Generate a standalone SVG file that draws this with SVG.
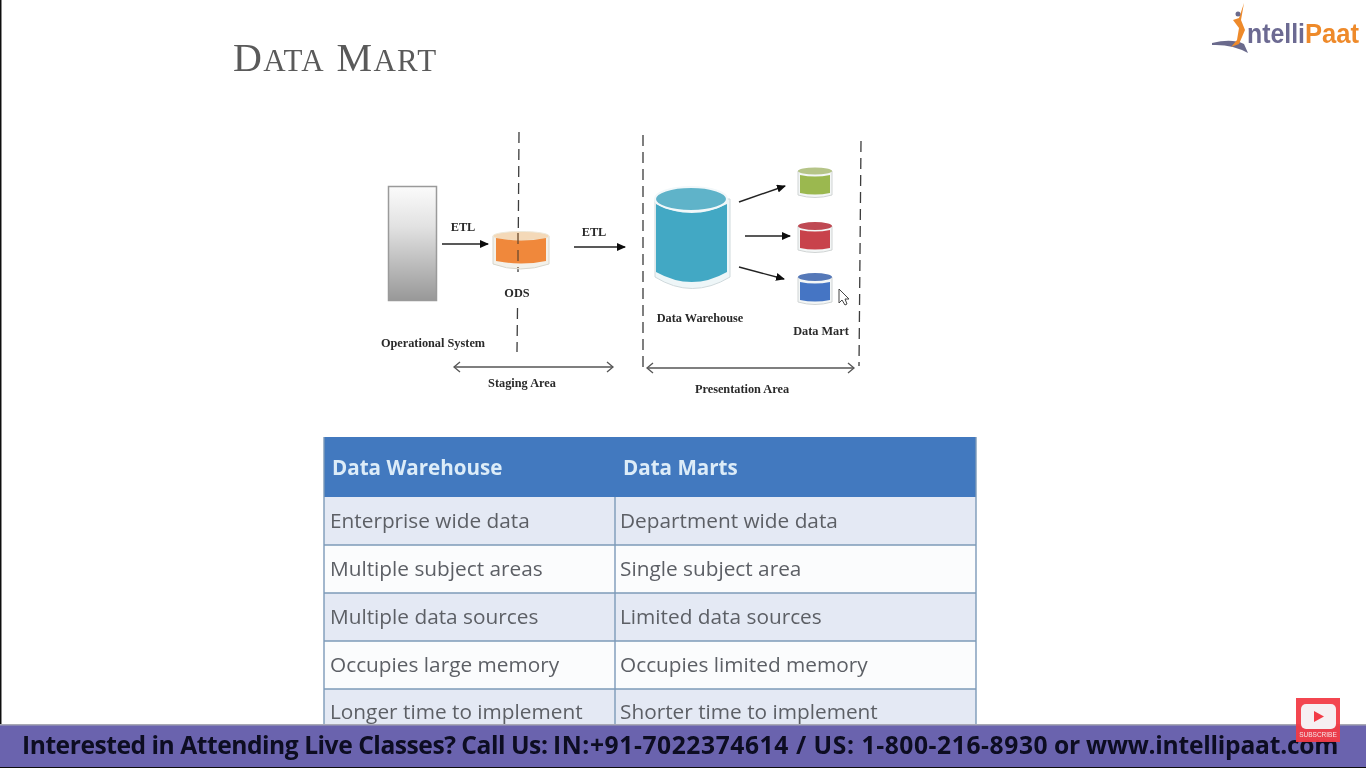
<svg xmlns="http://www.w3.org/2000/svg" width="1366" height="768" viewBox="0 0 1366 768">
<style>
.lbl{font-family:"Liberation Serif",serif;font-weight:700;font-size:12.300px;fill:#2a2a2a;text-anchor:middle}
.dash{stroke:#3c3c3c;stroke-width:1.300;stroke-dasharray:11 6;fill:none}
.arr{stroke:#222;stroke-width:1.400;fill:none;marker-end:url(#ah)}
.span{stroke:#555;stroke-width:1.300;fill:none;marker-start:url(#op);marker-end:url(#op)}
.cell{font-family:"Open Sans","Noto Sans",sans-serif;font-size:20.800px;fill:#5c5f65}
.head{font-family:"Open Sans","Noto Sans",sans-serif;font-weight:700;font-size:20.600px;fill:#dcecf8}
.rowA{fill:#e4e9f4}.rowB{fill:#fbfcfd}
.grid{stroke:#7d9ab8;stroke-width:1.400;fill:none}
.rim{fill:#f3f6f6;stroke:#d0d4d4;stroke-width:1}
</style>
<defs>
<marker id="ah" markerWidth="10" markerHeight="8" refX="8" refY="4" orient="auto" markerUnits="userSpaceOnUse"><path d="M0 0L9 4L0 8Z" fill="#111"/></marker>
<marker id="op" markerWidth="10" markerHeight="12" refX="8" refY="6" orient="auto-start-reverse" markerUnits="userSpaceOnUse"><path d="M2 1L8 6L2 11" fill="none" stroke="#555" stroke-width="1.300"/></marker>
<linearGradient id="sys" x1="0" y1="0" x2="0" y2="1"><stop offset="0" stop-color="#fbfbfb"/><stop offset="0.35" stop-color="#e2e2e2"/><stop offset="1" stop-color="#989898"/></linearGradient>
<filter id="soft" x="0" y="0" width="100%" height="100%"><feGaussianBlur stdDeviation="0.450"/></filter>
</defs>
<rect width="1366" height="768" fill="#fff"/>
<g filter="url(#soft)">
<rect x="0" y="0" width="1.500" height="768" fill="#111"/>
<text id="title" x="233" y="71" font-family="Liberation Serif,serif" font-size="40" letter-spacing="1.350" fill="#5a5a5a">D<tspan font-size="31">ATA</tspan> M<tspan font-size="31">ART</tspan></text>

<g id="logo">
<path d="M1212 43Q1232 38 1244 44L1248 53Q1232 44 1212 45Z" fill="#6b6b8c"/>
<path d="M1244 3L1241 20L1245 30L1239 44L1231 47L1237 40L1239 28L1233 20L1239 18Z" fill="#ee8a2c"/>
<circle cx="1238" cy="14" r="2.500" fill="#6b6b8c"/>
<text x="1247" y="43" font-family="Liberation Sans,sans-serif" font-weight="700" font-size="27" fill="#6c6a92" textLength="58" lengthAdjust="spacingAndGlyphs">ntelli</text>
<text x="1305" y="43" font-family="Liberation Sans,sans-serif" font-weight="700" font-size="27" fill="#ee8a2c" textLength="54" lengthAdjust="spacingAndGlyphs">Paat</text>
</g>

<g id="connectors">
<line class="dash" x1="519" y1="132" x2="518" y2="272"/>
<line class="dash" x1="517.500" y1="308" x2="517" y2="352"/>
<line class="dash" x1="643" y1="135" x2="643" y2="368"/>
<line class="dash" x1="861" y1="141" x2="859" y2="366"/>
<line class="arr" x1="442" y1="244" x2="488" y2="244"/>
<line class="arr" x1="574" y1="247" x2="625" y2="247"/>
<line class="arr" x1="739" y1="202" x2="785" y2="186"/>
<line class="arr" x1="745" y1="236" x2="790" y2="236"/>
<line class="arr" x1="739" y1="267" x2="784" y2="279"/>
<line class="span" x1="454" y1="367" x2="613" y2="367"/>
<line class="span" x1="647" y1="368" x2="854" y2="368"/>
</g>

<g id="operational-system">
<rect x="388.500" y="186.500" width="48" height="114" fill="url(#sys)" stroke="#9a9a9a" stroke-width="1.500"/>
<text class="lbl" x="433" y="347">Operational System</text>
</g>

<g id="etl-1"><text class="lbl" x="463" y="231">ETL</text></g>
<g id="etl-2"><text class="lbl" x="594" y="236">ETL</text></g>

<g id="ods">
<path d="M493 236V264Q520 274 549 264V236Z" fill="#f3f1ea" stroke="#d8d6cc"/>
<ellipse cx="521" cy="236" rx="28" ry="4.500" fill="#f4d9b8" stroke="#eee9da"/>
<path d="M496 238Q521 243 546 238V261Q521 266 496 261Z" fill="#f0883a"/>
<text class="lbl" x="517" y="297">ODS</text>
</g>
<line x1="518" y1="233" x2="518" y2="268" stroke="#6b4a2c" stroke-width="1.300" stroke-dasharray="11 6"/>

<g id="data-warehouse">
<path d="M655 199V277Q692 300 730 277V199Z" fill="#eef6f8" stroke="#cfd9dc"/>
<path d="M656 204Q692 222 727 204V272Q692 292 656 272Z" fill="#43a8c4"/>
<ellipse cx="691" cy="199" rx="36" ry="12" fill="#5fb3c9" stroke="#f2f8fa" stroke-width="2"/>
<text class="lbl" x="700" y="322">Data Warehouse</text>
</g>

<g id="mart-green">
<path class="rim" d="M798 171V195Q815 200 832 195V171Z"/>
<ellipse cx="815" cy="171" rx="17" ry="3.500" fill="#b5c488"/>
<path d="M800 175Q815 178 830 175V193Q815 196 800 193Z" fill="#9bb850"/>
</g>
<g id="mart-red">
<path class="rim" d="M798 226V250Q815 255 832 250V226Z"/>
<ellipse cx="815" cy="226" rx="17" ry="4" fill="#bf4a52"/>
<path d="M800 230Q815 233 830 230V248Q815 251 800 248Z" fill="#c8434c"/>
</g>
<g id="mart-blue">
<path class="rim" d="M798 277V302Q815 307 832 302V277Z"/>
<ellipse cx="815" cy="277" rx="17" ry="4" fill="#5578b8"/>
<path d="M800 282Q815 285 830 282V300Q815 303 800 300Z" fill="#4474c4"/>
<text class="lbl" x="821" y="335">Data Mart</text>
</g>
<path id="cursor" d="M839 289V303L842 300L845 305L847 304L845 299H849Z" fill="#fff" stroke="#444" stroke-width="1"/>

<g id="staging-area"><text class="lbl" x="522" y="387">Staging Area</text></g>
<g id="presentation-area"><text class="lbl" x="742" y="393">Presentation Area</text></g>

<g id="table">
<rect x="324" y="437" width="652" height="60" fill="#4279bf"/>
<rect class="rowA" x="324" y="497" width="652" height="48"/>
<rect class="rowB" x="324" y="545" width="652" height="48"/>
<rect class="rowA" x="324" y="593" width="652" height="48"/>
<rect class="rowB" x="324" y="641" width="652" height="48"/>
<rect class="rowA" x="324" y="689" width="652" height="36"/>
<path class="grid" d="M324 437V725M976 437V725M615 497V725M324 545H976M324 593H976M324 641H976M324 689H976"/>
<text class="head" x="332" y="475">Data Warehouse</text>
<text class="head" x="623" y="475">Data Marts</text>
<text class="cell" x="330" y="528">Enterprise wide data</text>
<text class="cell" x="620" y="528">Department wide data</text>
<text class="cell" x="330" y="576">Multiple subject areas</text>
<text class="cell" x="620" y="576">Single subject area</text>
<text class="cell" x="330" y="624">Multiple data sources</text>
<text class="cell" x="620" y="624">Limited data sources</text>
<text class="cell" x="330" y="672">Occupies large memory</text>
<text class="cell" x="620" y="672">Occupies limited memory</text>
<text class="cell" x="330" y="719">Longer time to implement</text>
<text class="cell" x="620" y="719">Shorter time to implement</text>
</g>

<g id="banner">
<rect x="0" y="724" width="1366" height="44" fill="#6b64ae"/>
<rect x="0" y="724" width="1366" height="1.500" fill="#a8a8b4"/>
<rect x="0" y="767" width="1366" height="1" fill="#111"/>
<text y="754" font-family="Open Sans,Noto Sans,sans-serif" font-weight="700" font-size="24.600" fill="#0c0c20"><tspan x="22" letter-spacing="-0.460">Interested in Attending Live Classes? Call Us: </tspan><tspan x="553" letter-spacing="0.590">IN:+91-7022374614 / US: 1-800-216-8930 </tspan><tspan x="1054" letter-spacing="-0.230">or www.intellipaat.com</tspan></text>
</g>

<g id="subscribe">
<rect x="1296" y="698" width="44" height="44" fill="#f23b46" fill-opacity="0.950"/>
<rect x="1301" y="704" width="35" height="25" rx="5" fill="#f6eff2"/>
<path d="M1314 711L1324 716.500L1314 722Z" fill="#f23b46"/>
<text x="1318" y="737" font-family="Liberation Sans,sans-serif" font-size="6.500" fill="#f6e4e6" text-anchor="middle">SUBSCRIBE</text>
</g>
</g>
</svg>
